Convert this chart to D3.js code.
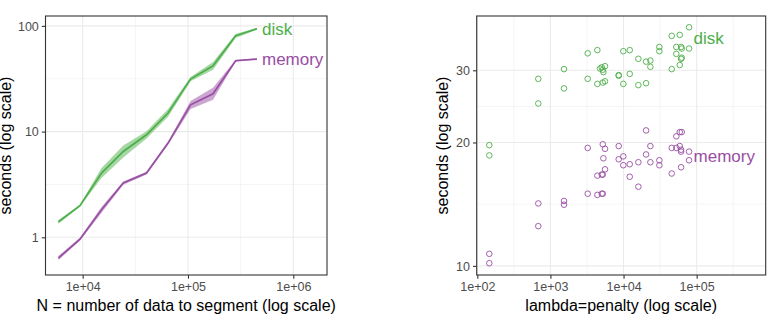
<!DOCTYPE html>
<html>
<head>
<meta charset="utf-8">
<script src="https://d3js.org/d3.v7.min.js"></script>
<style>
  body { margin: 0; background: #fff; }
  text { font-family: "Liberation Sans", Arial, sans-serif; }
</style>
</head>
<body>
<svg id="chart" width="774" height="320"></svg>
<script>
// ---- left panel data: time vs N ----
var sizeN = [5880, 9420, 15100, 24300, 40400, 64700, 105800, 173000, 283700, 452000];
var diskMean = [1.40, 1.99, 4.05, 6.49, 9.33, 15.0, 31.4, 41.9, 80.6, 93.9];
var diskLo   = [1.34, 1.95, 3.63, 5.70, 8.60, 13.8, 30.0, 38.5, 77.0, 92.0];
var diskHi   = [1.46, 2.03, 4.52, 7.40, 10.1, 16.4, 32.8, 45.5, 84.0, 96.0];
var memMean  = [0.636, 0.96, 1.82, 3.26, 4.05, 7.78, 17.9, 22.8, 46.8, 48.5];
var memLo    = [0.61, 0.93, 1.71, 3.15, 3.92, 7.50, 16.4, 20.0, 46.0, 47.8];
var memHi    = [0.665, 0.99, 1.94, 3.37, 4.18, 8.05, 19.5, 26.0, 47.7, 49.2];

// ---- right panel data: time vs penalty ----
var diskPen = [146, 146, 683, 683, 1535, 1535, 3236, 3236, 4385, 4385, 4775, 5040, 5200, 5300, 5200, 5580, 5580,
  8590, 8590, 9930, 9930, 12150, 12150, 15950, 15950, 20330, 20330, 23280, 23280, 30900, 30900,
  45600, 45600, 52700, 52700, 58700, 58700, 61200, 62500, 61200, 62500, 78700, 78700];
var diskSec = [19.7, 18.6, 28.6, 24.9, 30.2, 27.1, 33.0, 28.6, 33.6, 27.8, 30.3, 30.5, 30.1, 29.7, 28.0, 28.2, 30.7,
  29.2, 29.1, 33.4, 27.8, 33.6, 29.4, 32.0, 27.6, 31.5, 27.9, 31.7, 30.6, 34.2, 33.4,
  30.2, 36.4, 34.2, 32.9, 36.6, 30.9, 34.2, 33.9, 32.0, 32.2, 33.9, 38.2];
var memPen = [146, 146, 683, 683, 1535, 1535, 3236, 3236, 4385, 4385, 5040, 5200, 5040, 5200, 5200, 5580, 5300, 5580,
  8590, 8590, 9930, 9930, 12150, 12150, 15950, 15950, 20330, 20330, 23280, 23280, 30900, 30900,
  45600, 45600, 52700, 52700, 58700, 58700, 61200, 62500, 61200, 61200, 78700, 78700];
var memSec = [10.7, 10.15, 14.2, 12.5, 14.4, 14.1, 19.4, 15.0, 14.9, 16.6, 16.7, 16.7, 15.0, 15.0, 19.8, 19.3, 18.3, 17.2,
  19.6, 18.2, 18.5, 17.6, 17.7, 16.5, 17.9, 15.6, 21.4, 18.7, 19.6, 17.9, 18.1, 17.6,
  19.4, 16.8, 19.4, 20.7, 19.6, 21.2, 19.2, 21.2, 17.4, 19.0, 19.0, 18.1];

// ticks
var leftXTicks = [1e4, 1e5, 1e6];
var leftXLabels = ["1e+04", "1e+05", "1e+06"];
var leftYTicks = [1, 10, 100];
var leftYLabels = ["1", "10", "100"];
var rightXTicks = [1e2, 1e3, 1e4, 1e5];
var rightXLabels = ["1e+02", "1e+03", "1e+04", "1e+05"];
var rightYTicks = [10, 20, 30];
var rightYLabels = ["10", "20", "30"];

var green = "#4DAF4A", purple = "#984EA3";
var svg = d3.select("#chart");

function panel(cfg) {
  var x = cfg.x, y = cfg.y;
  var x0 = x.range()[0], x1 = x.range()[1], y0 = y.range()[0], y1 = y.range()[1];
  var g = svg.append("g");
  // grid lines, minor first
  cfg.xMinor.forEach(function(v) { g.append("line").attr("x1", x(v)).attr("x2", x(v)).attr("y1", y0).attr("y2", y1)
    .attr("stroke", "#EBEBEB").attr("stroke-width", 0.55); });
  cfg.yMinor.forEach(function(v) { g.append("line").attr("y1", y(v)).attr("y2", y(v)).attr("x1", x0).attr("x2", x1)
    .attr("stroke", "#EBEBEB").attr("stroke-width", 0.55); });
  cfg.xMajor.forEach(function(v) { g.append("line").attr("x1", x(v)).attr("x2", x(v)).attr("y1", y0).attr("y2", y1)
    .attr("stroke", "#EBEBEB").attr("stroke-width", 1.1); });
  cfg.yMajor.forEach(function(v) { g.append("line").attr("y1", y(v)).attr("y2", y(v)).attr("x1", x0).attr("x2", x1)
    .attr("stroke", "#EBEBEB").attr("stroke-width", 1.1); });

  // axes
  var xa = g.append("g").attr("transform", "translate(0," + y0 + ")")
    .call(d3.axisBottom(x).tickValues(cfg.xMajor).tickSize(3.7).tickPadding(3)
      .tickFormat(function(d, i) { return cfg.xLabels[i]; }));
  var ya = g.append("g").attr("transform", "translate(" + x0 + ",0)")
    .call(d3.axisLeft(y).tickValues(cfg.yMajor).tickSize(3.7).tickPadding(3)
      .tickFormat(function(d, i) { return cfg.yLabels[i]; }));
  [xa, ya].forEach(function(a) {
    a.select(".domain").remove();
    a.selectAll("line").attr("stroke", "#333333").attr("stroke-width", 1.1);
    a.selectAll("text").attr("fill", "#4D4D4D").style("font-size", "12.5px")
      .style("font-family", "'Liberation Sans', Arial, sans-serif");
  });
  xa.selectAll("text").attr("dy", "0.71em").attr("y", 7.5);
  ya.selectAll("text").attr("dy", "0.35em");

  g.append("text").attr("x", (x0 + x1) / 2).attr("y", 311).attr("text-anchor", "middle")
    .style("font-size", "16px").text(cfg.xTitle);
  g.append("text").attr("transform", "translate(" + cfg.yTitleX + "," + ((y0 + y1) / 2) + ") rotate(-90)")
    .attr("text-anchor", "middle").style("font-size", "16px").text("seconds (log scale)");
  return g;
}

// ---- left panel ----
var xL = d3.scaleLog().domain([4436, 2.09e6]).range([45.5, 327]);
var yL = d3.scaleLog().domain([0.44, 124]).range([275, 16]);
var gL = panel({ x: xL, y: yL, xMajor: leftXTicks, xLabels: leftXLabels, yMajor: leftYTicks, yLabels: leftYLabels,
  xMinor: [Math.pow(10, 4.5), Math.pow(10, 5.5)], yMinor: [Math.pow(10, 0.5), Math.pow(10, 1.5)],
  xTitle: "N = number of data to segment (log scale)", yTitleX: 10.5 });

var leftSeries = [
  { name: "disk", color: green, mean: diskMean, lo: diskLo, hi: diskHi },
  { name: "memory", color: purple, mean: memMean, lo: memLo, hi: memHi }
];
leftSeries.forEach(function(s) {
  var idx = d3.range(sizeN.length);
  gL.append("path").datum(idx)
    .attr("d", d3.area().x(function(i) { return xL(sizeN[i]); })
      .y0(function(i) { return yL(s.lo[i]); }).y1(function(i) { return yL(s.hi[i]); }))
    .attr("fill", s.color).attr("fill-opacity", 0.5);
  gL.append("path").datum(idx)
    .attr("d", d3.line().x(function(i) { return xL(sizeN[i]); }).y(function(i) { return yL(s.mean[i]); }))
    .attr("fill", "none").attr("stroke", s.color).attr("stroke-width", 1.7);
  var last = sizeN.length - 1;
  gL.append("text").attr("x", xL(sizeN[last]) + 5).attr("y", yL(s.mean[last])).attr("dy", "0.35em")
    .attr("fill", s.color).style("font-size", "17px").text(s.name);
});
gL.append("rect").attr("x", 45.5).attr("y", 16).attr("width", 327 - 45.5).attr("height", 275 - 16)
  .attr("fill", "none").attr("stroke", "#333333").attr("stroke-width", 1.1);

// ---- right panel ----
var xR = d3.scaleLog().domain([Math.pow(10, 1.992), Math.pow(10, 5.944)]).range([476.7, 765.7]);
var yR = d3.scaleLog().domain([9.5, 40.7]).range([275, 16]);
var gR = panel({ x: xR, y: yR, xMajor: rightXTicks, xLabels: rightXLabels, yMajor: rightYTicks, yLabels: rightYLabels,
  xMinor: [Math.pow(10, 2.5), Math.pow(10, 3.5), Math.pow(10, 4.5), Math.pow(10, 5.5)],
  yMinor: [Math.sqrt(200), Math.sqrt(600)],
  xTitle: "lambda=penalty (log scale)", yTitleX: 448 });

var rightSeries = [
  { name: "disk", color: green, pen: diskPen, sec: diskSec },
  { name: "memory", color: purple, pen: memPen, sec: memSec }
];
rightSeries.forEach(function(s) {
  gR.selectAll(null).data(d3.range(s.pen.length)).enter().append("circle")
    .attr("cx", function(i) { return xR(s.pen[i]); })
    .attr("cy", function(i) { return yR(s.sec[i]); })
    .attr("r", 2.8).attr("fill", "none").attr("stroke", s.color).attr("stroke-width", 0.9);
  var mx = d3.max(s.pen);
  var ys = s.sec.filter(function(v, i) { return s.pen[i] === mx; });
  var ly = Math.exp(d3.mean(ys.map(Math.log)));
  gR.append("text").attr("x", xR(mx) + 4.5).attr("y", yR(ly)).attr("dy", "0.35em")
    .attr("fill", s.color).style("font-size", "17px").text(s.name);
});
gR.append("rect").attr("x", 476.7).attr("y", 16).attr("width", 765.7 - 476.7).attr("height", 275 - 16)
  .attr("fill", "none").attr("stroke", "#333333").attr("stroke-width", 1.1);
</script>
</body>
</html>
